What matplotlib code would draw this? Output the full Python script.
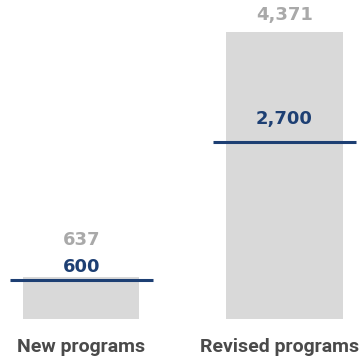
import matplotlib.pyplot as plt

# programs: total vs. target
categories = ["New programs", "Revised programs"]
totals     = [637, 4371]
targets    = [600, 2700]
total_labels  = ["637", "4,371"]
target_labels = ["600", "2,700"]

GrayBar  = "#d9d9d9"
GrayText = "#a9a9a9"
Blue     = "#1d3f73"
LabelCol = "#4a4a4a"

fig = plt.figure(figsize=(3.62, 3.58), dpi=100)
ax = fig.add_axes([0, 0, 1, 1])

x = list(range(len(categories)))
ax.bar(x, totals, width=0.572, color=GrayBar, zorder=1)
ax.hlines(targets, [i - 0.352 for i in x], [i + 0.352 for i in x],
          color=Blue, linewidth=2.2, zorder=2)

# value labels: gray total above bar, blue target above its line
total_offsets  = [37, 17]
target_offsets = [13, 23]
name_shift     = [0, -5]
for i in x:
    ax.annotate(total_labels[i], (i, totals[i]), xytext=(0, total_offsets[i]),
                textcoords="offset pixels", ha="center", va="center",
                fontsize=13, fontweight="bold", color=GrayText)
    ax.annotate(target_labels[i], (i, targets[i]), xytext=(0, target_offsets[i]),
                textcoords="offset pixels", ha="center", va="center",
                fontsize=13, fontweight="bold", color=Blue)
    # category name under the bar
    ax.annotate(categories[i], (i, 0), xytext=(name_shift[i], -28),
                textcoords="offset pixels", ha="center", va="center",
                fontsize=14, fontweight="bold", family="Roboto", color=LabelCol)

ax.set_xlim(-0.401, 1.382)
ax.set_ylim(-594, 4858)
ax.axis("off")

fig.savefig("out.png", dpi=100)
